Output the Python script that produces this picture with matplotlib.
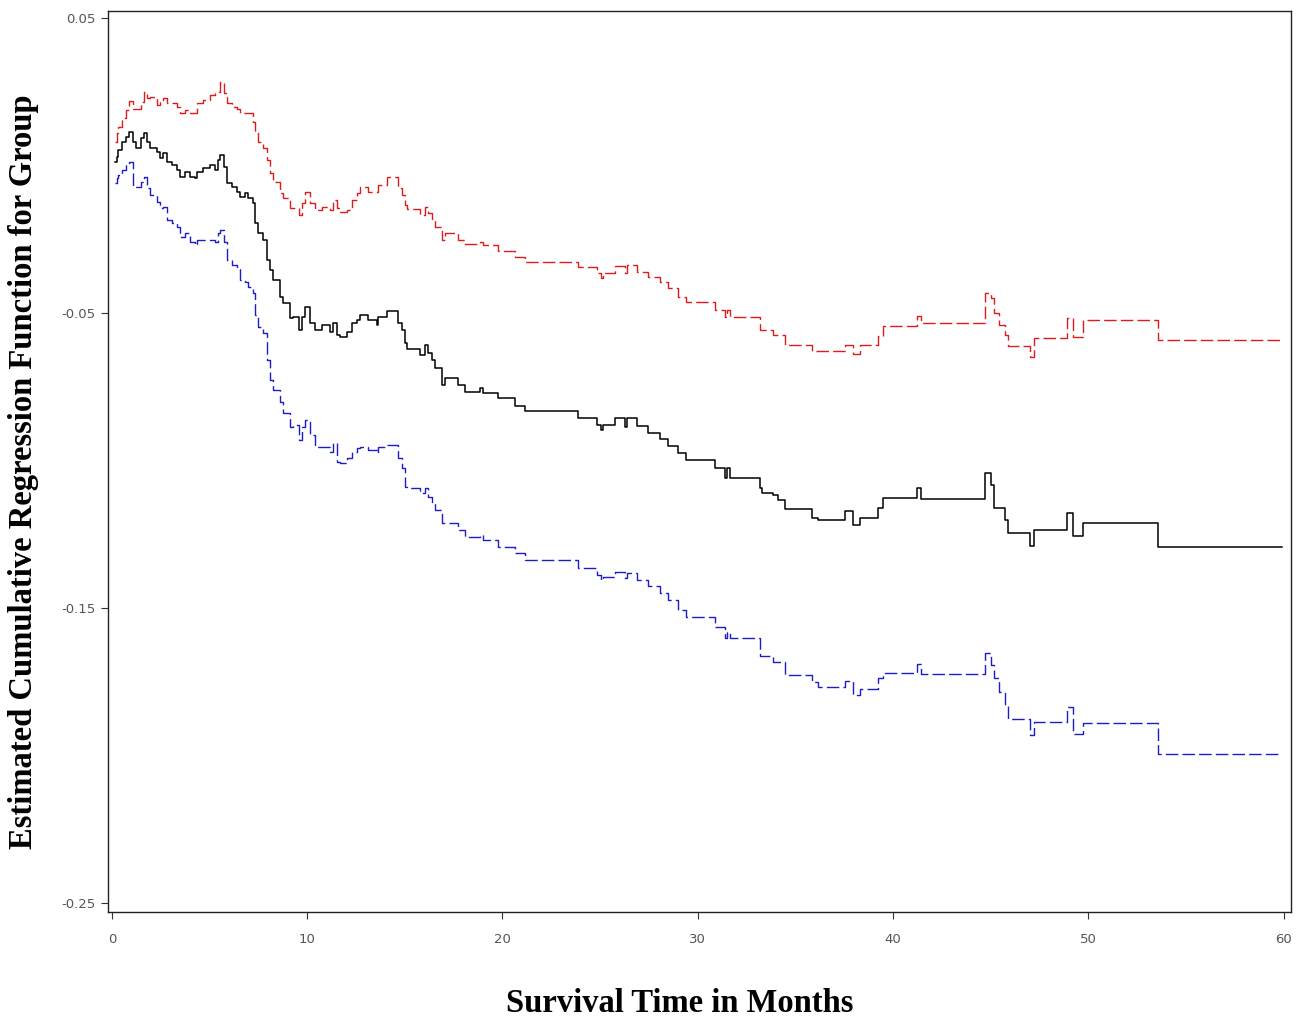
import matplotlib
matplotlib.use("Agg")
import matplotlib.pyplot as plt

# step start times (months)
times = [0.15, 0.26, 0.31, 0.51, 0.72, 0.87, 1.08, 1.23, 1.48, 1.64,
         1.79, 1.95, 2.30, 2.46, 2.61, 2.82, 3.07, 3.33, 3.48, 3.74,
         3.99, 4.25, 4.35, 4.66, 5.02, 5.27, 5.43, 5.53, 5.73, 5.89,
         6.14, 6.40, 6.55, 6.81, 6.96, 7.22, 7.32, 7.48, 7.73, 7.94,
         8.09, 8.24, 8.60, 8.76, 9.11, 9.27, 9.57, 9.73, 9.88, 10.14,
         10.39, 10.75, 11.16, 11.32, 11.52, 11.67, 12.03, 12.29, 12.54, 12.70,
         13.11, 13.57, 13.62, 14.08, 14.64, 14.85, 15.00, 15.10, 15.77, 16.03,
         16.18, 16.38, 16.54, 16.90, 17.05, 17.72, 18.07, 18.84, 19.00, 19.76,
         20.63, 21.15, 23.86, 24.83, 25.04, 25.14, 25.76, 26.27, 26.37, 26.88,
         27.44, 28.06, 28.47, 28.98, 29.39, 30.88, 31.39, 31.49, 31.64, 33.18,
         33.28, 33.85, 34.10, 34.46, 35.84, 36.15, 37.53, 37.94, 38.30, 39.22,
         39.48, 41.22, 41.42, 44.70, 45.01, 45.16, 45.42, 45.72, 45.88, 47.00,
         47.21, 48.90, 49.21, 49.72, 53.56]
t_end = 59.91

estimate = [0.0012, 0.0029, 0.0053, 0.0080, 0.0097, 0.0114, 0.0080, 0.0059, 0.0093, 0.0110,
            0.0080, 0.0059, 0.0046, 0.0025, 0.0042, 0.0012, 0.0002, -0.0015, -0.0039, -0.0022,
            -0.0039, -0.0042, -0.0022, -0.0009, 0.0002, -0.0015, 0.0019, 0.0036, -0.0005, -0.0059,
            -0.0073, -0.0090, -0.0107, -0.0093, -0.0110, -0.0127, -0.0195, -0.0229, -0.0253, -0.0320,
            -0.0354, -0.0388, -0.0446, -0.0466, -0.0517, -0.0514, -0.0558, -0.0514, -0.0480, -0.0534,
            -0.0558, -0.0541, -0.0564, -0.0534, -0.0575, -0.0581, -0.0564, -0.0534, -0.0524, -0.0507,
            -0.0524, -0.0541, -0.0514, -0.0493, -0.0534, -0.0558, -0.0602, -0.0622, -0.0642, -0.0609,
            -0.0636, -0.0659, -0.0687, -0.0744, -0.0720, -0.0744, -0.0768, -0.0754, -0.0771, -0.0788,
            -0.0815, -0.0832, -0.0856, -0.0880, -0.0897, -0.0880, -0.0856, -0.0887, -0.0856, -0.0883,
            -0.0907, -0.0927, -0.0951, -0.0975, -0.0998, -0.1026, -0.1059, -0.1026, -0.1059, -0.1093,
            -0.1110, -0.1117, -0.1134, -0.1164, -0.1195, -0.1202, -0.1171, -0.1219, -0.1195, -0.1161,
            -0.1127, -0.1093, -0.1131, -0.1042, -0.1083, -0.1161, -0.1161, -0.1202, -0.1246, -0.1290,
            -0.1236, -0.1178, -0.1256, -0.1212, -0.1293]

upper = [0.0080, 0.0110, 0.0130, 0.0161, 0.0188, 0.0219, 0.0192, 0.0192, 0.0215, 0.0249,
         0.0229, 0.0232, 0.0205, 0.0215, 0.0229, 0.0212, 0.0212, 0.0198, 0.0178, 0.0188,
         0.0178, 0.0178, 0.0212, 0.0222, 0.0239, 0.0249, 0.0249, 0.0283, 0.0246, 0.0212,
         0.0198, 0.0192, 0.0178, 0.0178, 0.0178, 0.0147, 0.0110, 0.0080, 0.0059, 0.0019,
         -0.0025, -0.0056, -0.0093, -0.0110, -0.0144, -0.0144, -0.0168, -0.0127, -0.0090, -0.0127,
         -0.0151, -0.0141, -0.0151, -0.0117, -0.0144, -0.0158, -0.0151, -0.0117, -0.0093, -0.0073,
         -0.0090, -0.0090, -0.0066, -0.0039, -0.0076, -0.0100, -0.0134, -0.0147, -0.0168, -0.0141,
         -0.0161, -0.0185, -0.0209, -0.0253, -0.0229, -0.0253, -0.0266, -0.0259, -0.0270, -0.0290,
         -0.0310, -0.0327, -0.0344, -0.0364, -0.0381, -0.0364, -0.0341, -0.0364, -0.0337, -0.0361,
         -0.0378, -0.0395, -0.0415, -0.0446, -0.0463, -0.0490, -0.0514, -0.0490, -0.0514, -0.0558,
         -0.0558, -0.0575, -0.0575, -0.0609, -0.0629, -0.0629, -0.0609, -0.0639, -0.0609, -0.0578,
         -0.0544, -0.0510, -0.0534, -0.0432, -0.0449, -0.0500, -0.0541, -0.0575, -0.0612, -0.0649,
         -0.0585, -0.0517, -0.0581, -0.0524, -0.0592]

lower = [-0.0059, -0.0042, -0.0032, -0.0015, 0.0002, 0.0012, -0.0073, -0.0073, -0.0056, -0.0039,
         -0.0076, -0.0100, -0.0124, -0.0144, -0.0141, -0.0185, -0.0195, -0.0209, -0.0242, -0.0229,
         -0.0259, -0.0270, -0.0253, -0.0253, -0.0253, -0.0259, -0.0229, -0.0219, -0.0259, -0.0320,
         -0.0337, -0.0348, -0.0388, -0.0395, -0.0412, -0.0432, -0.0507, -0.0548, -0.0568, -0.0659,
         -0.0727, -0.0761, -0.0802, -0.0839, -0.0887, -0.0880, -0.0931, -0.0887, -0.0863, -0.0914,
         -0.0954, -0.0954, -0.0971, -0.0941, -0.1005, -0.1009, -0.0992, -0.0971, -0.0958, -0.0954,
         -0.0964, -0.0975, -0.0954, -0.0948, -0.0992, -0.1026, -0.1090, -0.1093, -0.1110, -0.1093,
         -0.1124, -0.1141, -0.1168, -0.1212, -0.1212, -0.1236, -0.1259, -0.1253, -0.1270, -0.1293,
         -0.1314, -0.1337, -0.1365, -0.1388, -0.1405, -0.1395, -0.1378, -0.1398, -0.1381, -0.1405,
         -0.1426, -0.1449, -0.1473, -0.1507, -0.1531, -0.1564, -0.1602, -0.1581, -0.1602, -0.1663,
         -0.1663, -0.1683, -0.1683, -0.1727, -0.1751, -0.1768, -0.1748, -0.1795, -0.1775, -0.1737,
         -0.1720, -0.1690, -0.1724, -0.1653, -0.1693, -0.1737, -0.1785, -0.1829, -0.1876, -0.1931,
         -0.1887, -0.1836, -0.1927, -0.1890, -0.1995]

x_ticks = [0, 10, 20, 30, 40, 50, 60]
y_ticks = [0.05, -0.05, -0.15, -0.25]
y_labels = ["0.05", "-0.05", "-0.15", "-0.25"]

fig = plt.figure(figsize=(12.99, 10.22), dpi=100)
ax = fig.add_axes([0.0831, 0.1076, 0.9107, 0.8816])

tt = times + [t_end]
ax.step(tt, upper + [upper[-1]], where="post", color="#dd1c1c", lw=1.0,
        dashes=(9, 3))
ax.step(tt, estimate + [estimate[-1]], where="post", color="black", lw=1.1)
ax.step(tt, lower + [lower[-1]], where="post", color="#1c1cc8", lw=1.0,
        dashes=(9, 3))

ax.set_xlim(-0.2, 60.37)
ax.set_ylim(-0.2531, 0.0524)
ax.set_xticks(x_ticks)
ax.set_xticklabels([str(v) for v in x_ticks])
ax.set_yticks(y_ticks)
ax.set_yticklabels(y_labels)
ax.tick_params(direction="out", length=5, width=0.8, labelsize=9.5,
               labelcolor="#555555", color="#333333")
ax.tick_params(axis="x", pad=10)
ax.tick_params(axis="y", pad=4)
for s in ax.spines.values():
    s.set_linewidth(1.0)
    s.set_color("#222222")

fig.text(0.523, 0.003, "Survival Time in Months", family="Liberation Serif",
         weight="bold", fontsize=23.5, ha="center", va="bottom")
fig.text(0.018, 0.538, "Estimated Cumulative Regression Function for Group",
         family="Liberation Serif", weight="bold", fontsize=23.5,
         rotation=90, ha="center", va="center")

fig.savefig("out.png", dpi=100)
